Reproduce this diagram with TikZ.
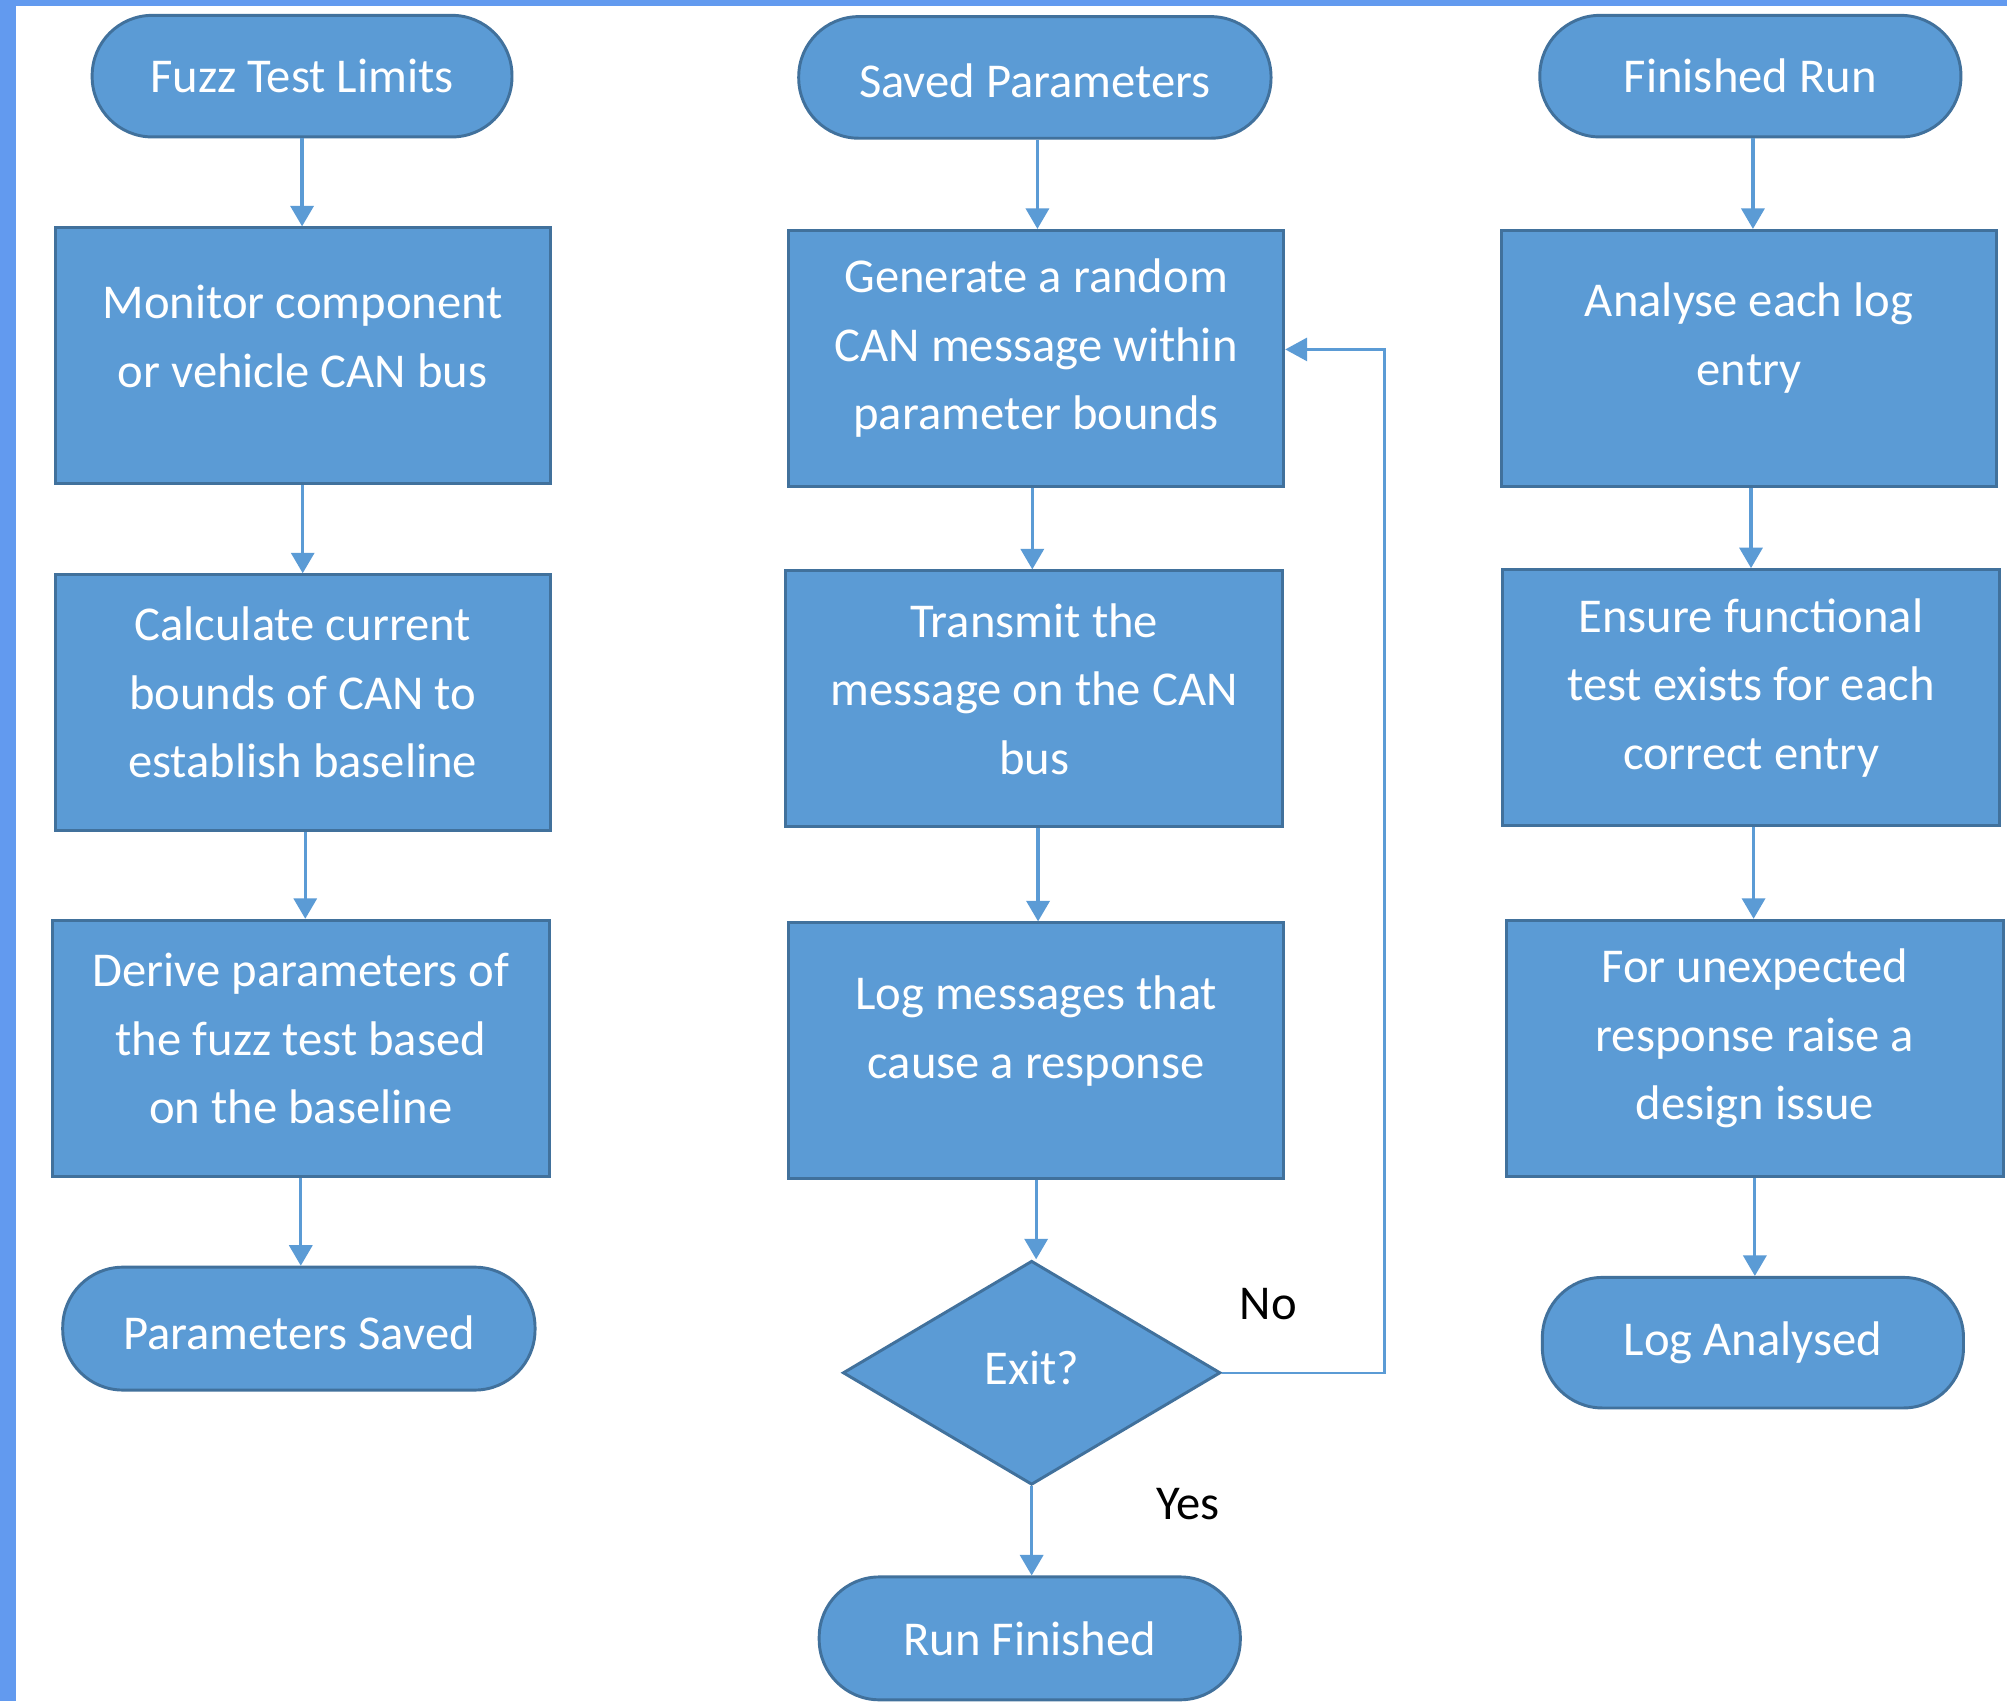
\documentclass[tikz,border=0pt]{standalone}
\usepackage{fontspec}
\setmainfont{Carlito}
\usetikzlibrary{shapes.geometric,arrows.meta}
\definecolor{boxfill}{HTML}{5B9BD5}
\definecolor{boxline}{HTML}{41719C}
\definecolor{framec}{RGB}{98,154,239}
\newcommand{\bigtxt}{\fontsize{38pt}{53.5pt}\selectfont}
\begin{document}
\begin{tikzpicture}[x=1pt,y=-1pt,
  box/.style={rectangle, draw=boxline, fill=boxfill, line width=2.3pt,
    minimum width=387pt, minimum height=200pt, inner sep=0pt},
  term/.style={rectangle, rounded corners=47pt, draw=boxline, fill=boxfill,
    line width=2.3pt, minimum width=328pt, minimum height=95pt, inner sep=0pt,
    text=white, font=\bigtxt},
  txt/.style={text=white, align=center, font=\bigtxt, inner sep=0pt},
  lbl/.style={text=black, font=\bigtxt, inner sep=0pt},
  dec/.style={diamond, draw=boxline, fill=boxfill, line width=2.3pt,
    minimum width=295pt, minimum height=175pt, aspect=1.686, inner sep=0pt},
  flow/.style={draw=boxfill, line width=2.5pt, -{Triangle[width=18pt,length=16pt]}},
  back/.style={draw=boxfill, line width=2pt, -{Triangle[width=18pt,length=17pt]}}
]
\useasboundingbox (0,0) rectangle (1568,1329);
\fill[white] (0,0) rectangle (1568,1329);
\fill[framec] (0,0) rectangle (12.5,1329);
\fill[framec] (0,0) rectangle (1568,4.5);

% left column
\node[term] (t1) at (236,59.5) {Fuzz Test Limits};
\node[box, label={[txt,yshift=15pt]center:{Monitor component\\or vehicle CAN bus}}] (b1) at (236.5,278) {};
\node[box, label={[txt,yshift=8pt]center:{Calculate current\\bounds of CAN to\\establish baseline}}] (b2) at (236.5,549) {};
\node[box, minimum width=388pt, label={[txt,yshift=7.5pt]center:{Derive parameters of\\the fuzz test based\\on the baseline}}] (b3) at (235,819) {};
\node[term, minimum width=369pt, minimum height=96pt, label={[txt,yshift=-3.5pt]center:Parameters Saved}] (t2) at (233.5,1038) {};

% middle column
\node[term, minimum width=369pt, label={[txt,yshift=-3pt]center:Saved Parameters}] (t3) at (808.5,60.5) {};
\node[box, label={[txt,yshift=8pt]center:{Generate a random\\CAN message within\\parameter bounds}}] (b4) at (809.5,280) {};
\node[box, minimum width=388pt, label={[txt,yshift=7.5pt]center:{Transmit the\\message on the CAN\\bus}}] (b5) at (808,546) {};
\node[box, label={[txt,yshift=15.5pt]center:{Log messages that\\cause a response}}] (b6) at (809.5,821) {};
\node[dec, label={[txt,yshift=4pt]center:Exit?}] (d) at (806,1072.5) {};
\node[term, minimum width=329pt, minimum height=96pt] (t4) at (804.5,1280) {Run Finished};
\node[lbl] (no) at (991,1019) {No};
\node[lbl] (yes) at (928,1175) {Yes};

% right column
\node[term, minimum width=329pt] (t5) at (1367.5,59.5) {Finished Run};
\node[box, label={[txt,yshift=16pt]center:{Analyse each log\\entry}}] (b7) at (1366.5,280) {};
\node[box, minimum width=388pt, label={[txt,yshift=7.5pt]center:{Ensure functional\\test exists for each\\correct entry}}] (b8) at (1368,545) {};
\node[box, minimum width=388pt, label={[txt,yshift=7.5pt]center:{For unexpected\\response raise a\\design issue}}] (b9) at (1371,819) {};
\node[term, minimum width=329pt, minimum height=102pt] (t6) at (1369.5,1049) {Log Analysed};

% connectors
\draw[flow] (t1.south) -- (t1.south |- b1.north);
\draw[flow] (b1.south) -- (b1.south |- b2.north);
\draw[flow] ([xshift=2pt]b2.south) -- ([xshift=2pt]b2.south |- b3.north);
\draw[flow] (b3.south) -- (b3.south |- t2.north);

\draw[flow] ([xshift=2pt]t3.south) -- ([xshift=2pt]t3.south |- b4.north);
\draw[flow] ([xshift=-3pt]b4.south) -- ([xshift=-3pt]b4.south |- b5.north);
\draw[flow] ([xshift=3pt]b5.south) -- ([xshift=3pt]b5.south |- b6.north);
\draw[flow] (b6.south) -- (b6.south |- d.north);
\draw[flow] (d.south) -- (d.south |- t4.north);
\draw[back] (d.east) -- ++(127,0) |- ([yshift=7pt]b4.east);

\draw[flow] ([xshift=2pt]t5.south) -- ([xshift=2pt]t5.south |- b7.north);
\draw[flow] ([xshift=1.5pt]b7.south) -- ([xshift=1.5pt]b7.south |- b8.north);
\draw[flow] ([xshift=2pt]b8.south) -- ([xshift=2pt]b8.south |- b9.north);
\draw[flow] (b9.south) -- (b9.south |- t6.north);
\end{tikzpicture}
\end{document}
